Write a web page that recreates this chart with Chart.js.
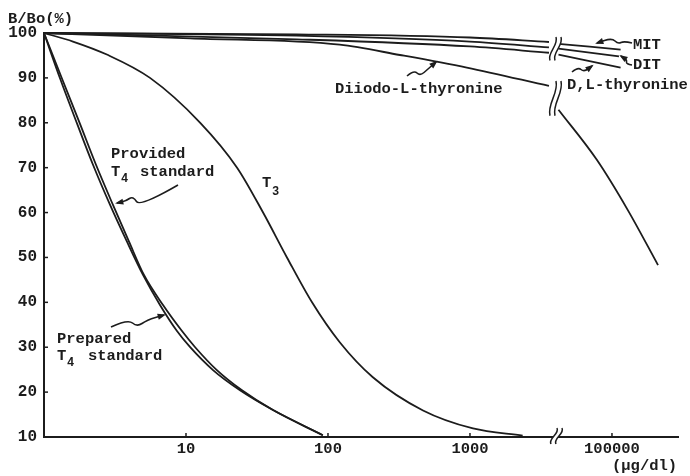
<!DOCTYPE html>
<html>
<head>
<meta charset="utf-8">
<script src="https://cdn.jsdelivr.net/npm/chart.js@4.4.1/dist/chart.umd.min.js"></script>
<style>
  html, body { margin: 0; padding: 0; background: #fff; }
  #wrap { width: 690px; height: 476px; position: relative; }
</style>
</head>
<body>
<div id="wrap"><canvas id="chart"></canvas></div>
<script>
// concentration in µg/dl, binding in B/Bo (%)
const t4ProvidedConc = [1, 1.34, 1.79, 2.32, 3.06, 3.97, 5.06, 6.89, 9.37, 11.6, 16.5, 24.8, 41, 92];
const t4ProvidedPct  = [100, 89.8, 79.8, 70.7, 61.7, 53.5, 46.1, 39.4, 33.6, 30.0, 24.9, 20.4, 16.0, 10.4];
const t4PreparedConc = [1, 1.30, 1.71, 2.21, 2.92, 3.84, 4.98, 6.56, 8.64, 10.7, 15.5, 24, 41, 92];
const t4PreparedPct  = [100, 89.8, 79.8, 70.7, 61.7, 53.5, 46.1, 39.4, 33.6, 30.0, 24.9, 20.4, 16.0, 10.4];
const t3Conc = [1, 1.6, 2.77, 5.58, 12.6, 22.9, 34.9, 51.4, 77.2, 121, 207, 467, 1050, 2350];
const t3Pct  = [100, 98.1, 95.2, 90, 80, 70, 60, 50, 40, 31.1, 23.3, 15.9, 11.9, 10.3];
const diiodoConc = [1, 10.7, 121, 321, 950, 3600, 42000, 78000, 129000, 211000];
const diiodoPct  = [100, 98.8, 97.4, 95.1, 92.3, 88.2, 82.9, 71.8, 60.6, 48.3];
const mitConc = [1, 60, 1000, 3600, 42000, 115000];
const mitPct  = [100, 99.7, 99.0, 98.0, 97.6, 96.3];
const ditConc = [1, 60, 1000, 3600, 42000, 112000];
const ditPct  = [100, 99.4, 98.1, 96.8, 96.5, 94.8];
const dlThyConc = [1, 60, 1000, 3600, 42000, 115000];
const dlThyPct  = [100, 98.6, 97.0, 95.6, 95.2, 92.3];

const xTicks = [10, 100, 1000, 100000];

// one decade (10^4..10^5) is cut out of the axis
const BREAK_CONC = 4000;
const BREAK_U = Math.log10(BREAK_CONC);
const INK = "#1c1c1c";
const FONT = '"Liberation Mono", "Courier New", monospace';

function pos(c) {
  return c > BREAK_CONC ? Math.log10(c) - 1 : Math.log10(c);
}

function unpos(u) {
  return u > BREAK_U ? Math.pow(10, u + 1) : Math.pow(10, u);
}

function buildPoints(conc, pct) {
  const pts = [];
  conc.forEach((c, i) => {
    if (i > 0 && conc[i - 1] <= BREAK_CONC && c > BREAK_CONC) pts.push({ x: BREAK_U, y: null });
    pts.push({ x: pos(c), y: pct[i] });
  });
  return pts;
}

function curve(label, conc, pct) {
  return {
    label,
    data: buildPoints(conc, pct),
    borderColor: INK,
    borderWidth: 1.8,
    pointRadius: 0,
    cubicInterpolationMode: "monotone",
    spanGaps: false,
    clip: false,
  };
}

// squiggly "//" break mark
function drawBreak(ctx, x, y1, y2) {
  const h = y2 - y1;
  const path = (d, rev) => {
    const a = [x + 3 + d, y1], b = [x + 6 + d, y1 + h * 0.35], c = [x - 6 + d, y1 + h * 0.65], e = [x - 3 + d, y2];
    if (!rev) { ctx.lineTo(a[0], a[1]); ctx.bezierCurveTo(b[0], b[1], c[0], c[1], e[0], e[1]); }
    else { ctx.lineTo(e[0], e[1]); ctx.bezierCurveTo(c[0], c[1], b[0], b[1], a[0], a[1]); }
  };
  ctx.save();
  ctx.fillStyle = "#fff";
  ctx.beginPath(); path(-2.5, false); path(2.5, true); ctx.closePath(); ctx.fill();
  ctx.strokeStyle = INK;
  ctx.lineWidth = 1.5;
  [-2.5, 2.5].forEach((d) => { ctx.beginPath(); path(d, false); ctx.stroke(); });
  ctx.restore();
}

function drawArrow(ctx, pts) {
  ctx.save();
  ctx.strokeStyle = INK;
  ctx.fillStyle = INK;
  ctx.lineWidth = 1.6;
  ctx.beginPath();
  ctx.moveTo(pts[0][0], pts[0][1]);
  for (let i = 1; i < pts.length - 1; i++) {
    const mx = (pts[i][0] + pts[i + 1][0]) / 2, my = (pts[i][1] + pts[i + 1][1]) / 2;
    ctx.quadraticCurveTo(pts[i][0], pts[i][1], mx, my);
  }
  const end = pts[pts.length - 1], prev = pts[pts.length - 2];
  ctx.lineTo(end[0], end[1]);
  ctx.stroke();
  const ang = Math.atan2(end[1] - prev[1], end[0] - prev[0]);
  ctx.beginPath();
  ctx.moveTo(end[0] + Math.cos(ang) * 2, end[1] + Math.sin(ang) * 2);
  ctx.lineTo(end[0] - Math.cos(ang - 0.45) * 7, end[1] - Math.sin(ang - 0.45) * 7);
  ctx.lineTo(end[0] - Math.cos(ang + 0.45) * 7, end[1] - Math.sin(ang + 0.45) * 7);
  ctx.closePath();
  ctx.fill();
  ctx.restore();
}

const notes = [
  ["B/Bo(%)", 8, 19],
  ["Provided", 111, 154],
  ["T", 111, 172], ["4", 121, 179, true], ["standard", 140, 172],
  ["T", 262, 183], ["3", 272, 192, true],
  ["Prepared", 57, 339],
  ["T", 57, 356], ["4", 67, 363, true], ["standard", 88, 356],
  ["Diiodo-L-thyronine", 335, 89],
  ["D,L-thyronine", 567, 85],
  ["MIT", 633, 45],
  ["DIT", 633, 65],
  ["(\u00b5g/dl)", 612, 466],
];

const arrows = [
  [[178, 185], [140, 207], [133, 196], [126, 201], [117, 203]],
  [[111, 327], [128, 319], [137, 327], [147, 320], [164, 315]],
  [[407, 76], [414, 70], [420, 76], [428, 69], [436, 62]],
  [[572, 72], [578, 67], [584, 72], [592, 66]],
  [[632, 43], [624, 41], [618, 44], [612, 38], [597, 43]],
  [[632, 65], [626, 64], [627, 60], [621, 56]],
];

const decor = {
  id: "decor",
  afterDatasetsDraw(chart) {
    const ctx = chart.ctx;
    const xs = chart.scales.x, ys = chart.scales.y;
    const area = chart.chartArea;
    // gap ranges of every curve at the cut
    const ranges = [];
    chart.data.datasets.forEach((ds, di) => {
      const els = chart.getDatasetMeta(di).data;
      const gi = ds.data.findIndex((p) => p.y === null);
      if (gi < 1) return;
      const a = els[gi - 1].y, b = els[gi + 1].y;
      ranges.push([Math.min(a, b) - 5, Math.max(a, b) + 6]);
    });
    ranges.sort((p, q) => p[0] - q[0]);
    const merged = [];
    ranges.forEach((r) => {
      const last = merged[merged.length - 1];
      if (last && r[0] - last[1] < 6) last[1] = Math.max(last[1], r[1]);
      else merged.push(r.slice());
    });
    const bx = xs.getPixelForValue(BREAK_U);
    merged.forEach((r) => drawBreak(ctx, bx, r[0], r[1]));

    // inward tick marks
    ctx.save();
    ctx.strokeStyle = INK;
    ctx.lineWidth = 1.5;
    ys.ticks.forEach((t) => {
      const y = ys.getPixelForValue(t.value);
      ctx.beginPath(); ctx.moveTo(area.left, y); ctx.lineTo(area.left + 4, y); ctx.stroke();
    });
    xs.ticks.forEach((t) => {
      const x = xs.getPixelForValue(t.value);
      ctx.beginPath(); ctx.moveTo(x, area.bottom); ctx.lineTo(x, area.bottom - 4); ctx.stroke();
    });
    ctx.restore();
    drawBreak(ctx, bx + 1, area.bottom - 9, area.bottom + 7);

    arrows.forEach((a) => drawArrow(ctx, a));

    ctx.save();
    ctx.fillStyle = INK;
    ctx.textBaseline = "middle";
    notes.forEach(([t, x, y, small]) => {
      ctx.font = (small ? "bold 12px " : "bold 15.5px ") + FONT;
      ctx.fillText(t, x, y);
    });
    ctx.restore();
  },
};

new Chart(document.getElementById("chart").getContext("2d"), {
  type: "line",
  data: {
    datasets: [
      curve("Provided T4 standard", t4ProvidedConc, t4ProvidedPct),
      curve("Prepared T4 standard", t4PreparedConc, t4PreparedPct),
      curve("T3", t3Conc, t3Pct),
      curve("Diiodo-L-thyronine", diiodoConc, diiodoPct),
      curve("MIT", mitConc, mitPct),
      curve("DIT", ditConc, ditPct),
      curve("D,L-thyronine", dlThyConc, dlThyPct),
    ],
  },
  options: {
    responsive: true,
    maintainAspectRatio: false,
    animation: false,
    layout: { padding: { top: 33, right: 12, left: 0, bottom: 0 } },
    plugins: {
      legend: { display: false },
      tooltip: { enabled: false },
    },
    scales: {
      x: {
        type: "linear",
        min: 0,
        max: 4.465,
        afterFit(s) { s.height = 39; },
        afterBuildTicks(s) { s.ticks = xTicks.map((c) => ({ value: pos(c) })); },
        grid: { display: false, drawTicks: false },
        border: { display: true, color: INK, width: 2 },
        ticks: {
          color: INK,
          padding: 3,
          maxRotation: 0,
          autoSkip: false,
          font: { family: FONT, size: 15.5, weight: "bold" },
          callback: (v) => String(Math.round(unpos(v))),
        },
      },
      y: {
        min: 10,
        max: 100,
        afterFit(s) { s.width = 44; },
        grid: { display: false, drawTicks: false },
        border: { display: true, color: INK, width: 2 },
        ticks: {
          stepSize: 10,
          color: INK,
          padding: 7,
          font: { family: FONT, size: 16, weight: "bold" },
        },
      },
    },
  },
  plugins: [decor],
});
</script>
</body>
</html>
